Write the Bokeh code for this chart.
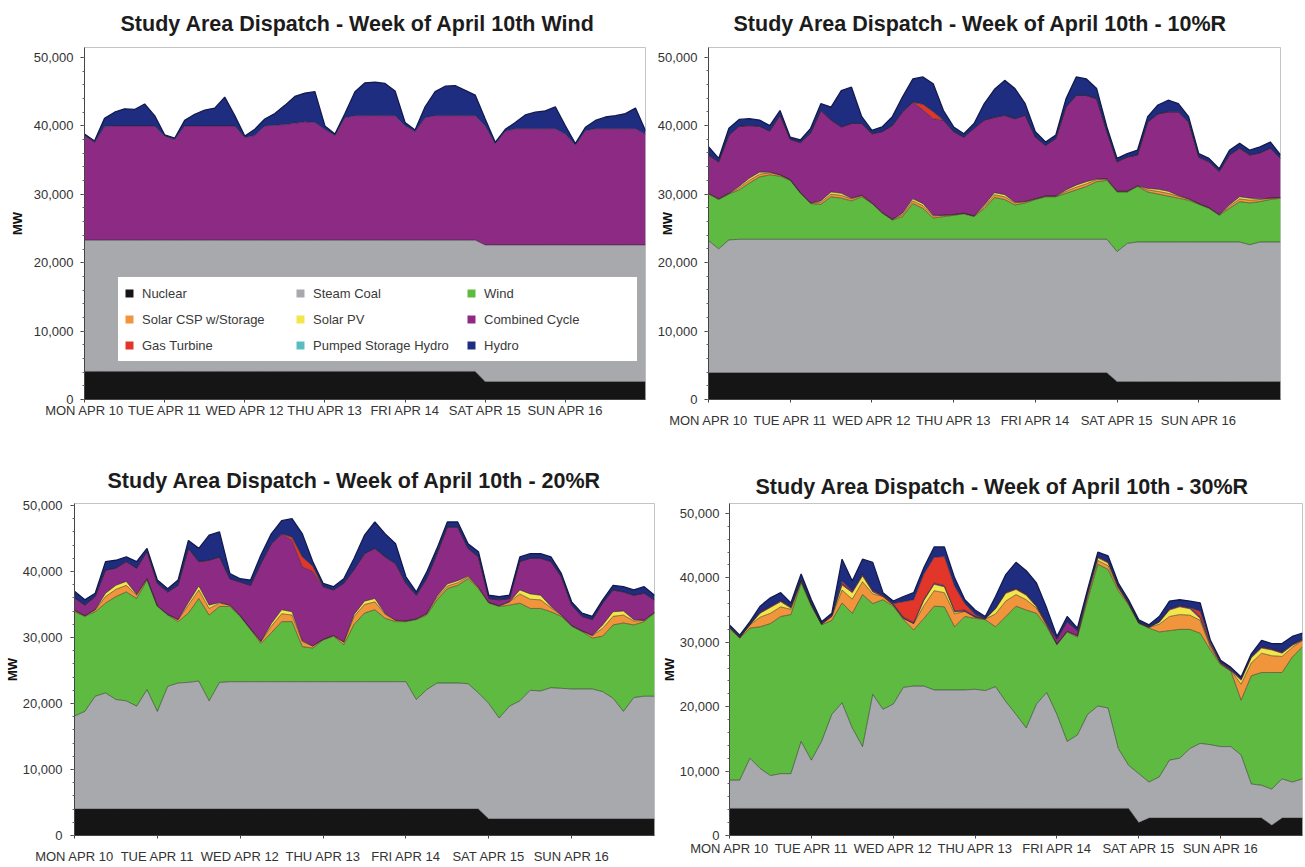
import numpy as np
from bokeh.plotting import figure
from bokeh.layouts import column, row
from bokeh.models import (Range1d, FixedTicker, SingleIntervalTicker, NumeralTickFormatter,
                          Legend, LegendItem)
from bokeh.embed import file_html
from bokeh.resources import INLINE

# ---------------- data (values in thousands of MW, every 3 hours) ----------------
hours = list(range(0, 169, 3))
day_ticks = [0, 24, 48, 72, 96, 120, 144]
day_labels = ["MON APR 10", "TUE APR 11", "WED APR 12", "THU APR 13",
              "FRI APR 14", "SAT APR 15", "SUN APR 16"]

sources = ["Nuclear", "Steam Coal", "Wind", "Solar CSP w/Storage", "Solar PV",
           "Combined Cycle", "Gas Turbine", "Pumped Storage Hydro", "Hydro"]
colors = ["#151515", "#a8a9ad", "#5fba42", "#f0953c", "#f2e64a",
          "#8c2a84", "#e2362b", "#5bbcc0", "#1f2d80"]

titles = ["Study Area Dispatch - Week of April 10th Wind",
          "Study Area Dispatch - Week of April 10th - 10%R",
          "Study Area Dispatch - Week of April 10th - 20%R",
          "Study Area Dispatch - Week of April 10th - 30%R"]

# --- panel 1: base case ---
nuc_b = [4.1, 4.1, 4.1, 4.1, 4.1, 4.1, 4.1, 4.1, 4.1, 4.1, 4.1, 4.1, 4.1, 4.1, 4.1, 4.1, 4.1, 4.1, 4.1, 4.1,
         4.1, 4.1, 4.1, 4.1, 4.1, 4.1, 4.1, 4.1, 4.1, 4.1, 4.1, 4.1, 4.1, 4.1, 4.1, 4.1, 4.1, 4.1, 4.1, 4.1,
         2.6, 2.6, 2.6, 2.6, 2.6, 2.6, 2.6, 2.6, 2.6, 2.6, 2.6, 2.6, 2.6, 2.6, 2.6, 2.6, 2.6]
coal_b = [19.2, 19.2, 19.2, 19.2, 19.2, 19.2, 19.2, 19.2, 19.2, 19.2, 19.2, 19.2, 19.2, 19.2, 19.2, 19.2, 19.2, 19.2, 19.2, 19.2,
          19.2, 19.2, 19.2, 19.2, 19.2, 19.2, 19.2, 19.2, 19.2, 19.2, 19.2, 19.2, 19.2, 19.2, 19.2, 19.2, 19.2, 19.2, 19.2, 19.2,
          20.0, 20.0, 20.0, 20.0, 20.0, 20.0, 20.0, 20.0, 20.0, 20.0, 20.0, 20.0, 20.0, 20.0, 20.0, 20.0, 20.0]
cc_b = [15.3, 14.3, 16.6, 16.7, 16.7, 16.7, 16.7, 16.7, 15.2, 14.7,
        16.7, 16.7, 16.7, 16.7, 16.7, 16.7, 15.0, 15.3, 16.7, 16.8,
        16.9, 17.1, 17.3, 17.2, 16.2, 15.3, 17.9, 18.2, 18.2, 18.2,
        18.2, 18.2, 16.7, 15.9, 17.9, 18.2, 18.2, 18.2, 18.2, 18.2,
        17.4, 14.8, 16.6, 17.0, 17.0, 17.0, 17.0, 17.0, 16.2, 14.6,
        16.7, 17.0, 17.0, 17.0, 17.0, 17.0, 16.2]
hydro_b = [0.2, 0.2, 1.2, 2.0, 2.5, 2.4, 3.2, 1.5, 0.2, 0.2,
           0.8, 1.7, 2.3, 2.6, 4.2, 1.5, 0.2, 0.9, 1.0, 1.7,
           2.8, 3.9, 4.2, 4.5, 0.5, 0.2, 0.6, 3.5, 4.8, 4.9,
           4.7, 3.6, 0.5, 0.2, 1.6, 3.5, 4.3, 4.4, 3.7, 3.0,
           1.0, 0.2, 0.3, 0.9, 2.0, 2.4, 2.6, 3.2, 1.2, 0.2,
           0.5, 1.2, 1.7, 1.9, 2.2, 3.0, 0.5]

# --- panel 2: 10% renewables ---
nuc_10 = [3.9, 3.9, 3.9, 3.9, 3.9, 3.9, 3.9, 3.9, 3.9, 3.9, 3.9, 3.9, 3.9, 3.9, 3.9, 3.9, 3.9, 3.9, 3.9, 3.9,
          3.9, 3.9, 3.9, 3.9, 3.9, 3.9, 3.9, 3.9, 3.9, 3.9, 3.9, 3.9, 3.9, 3.9, 3.9, 3.9, 3.9, 3.9, 3.9, 3.9,
          2.6, 2.6, 2.6, 2.6, 2.6, 2.6, 2.6, 2.6, 2.6, 2.6, 2.6, 2.6, 2.6, 2.6, 2.6, 2.6, 2.6]
coal_10 = [19.3, 18.1, 19.4, 19.5, 19.5, 19.5, 19.5, 19.5, 19.5, 19.5,
           19.5, 19.5, 19.5, 19.5, 19.5, 19.5, 19.5, 19.5, 19.5, 19.5,
           19.5, 19.5, 19.5, 19.5, 19.5, 19.5, 19.5, 19.5, 19.5, 19.5,
           19.5, 19.5, 19.5, 19.5, 19.5, 19.5, 19.5, 19.5, 19.5, 19.5,
           19.0, 20.2, 20.4, 20.4, 20.4, 20.4, 20.4, 20.4, 20.4, 20.4,
           20.4, 20.4, 20.4, 20.0, 20.4, 20.4, 20.4]
wind_10 = [6.8, 7.2, 6.7, 7.2, 8.2, 9.1, 9.4, 9.2, 8.6, 6.7,
           5.2, 5.1, 6.2, 6.0, 5.6, 6.2, 5.2, 3.8, 2.8, 3.3,
           5.2, 4.5, 3.1, 3.3, 3.5, 3.7, 3.3, 4.5, 6.1, 5.8,
           5.0, 5.3, 5.8, 6.2, 6.2, 6.7, 7.2, 7.7, 8.4, 8.6,
           8.7, 7.5, 8.1, 7.3, 7.0, 6.7, 6.4, 6.1, 5.5, 4.9,
           3.9, 4.9, 5.9, 6.1, 5.9, 6.2, 6.4]
csp_10 = [0.1, 0.1, 0.1, 0.3, 0.4, 0.4, 0.3, 0.2, 0.1, 0.1,
          0.1, 0.3, 0.4, 0.4, 0.3, 0.2, 0.1, 0.1, 0.1, 0.3,
          0.4, 0.4, 0.3, 0.2, 0.1, 0.1, 0.1, 0.3, 0.4, 0.4,
          0.3, 0.2, 0.1, 0.1, 0.1, 0.3, 0.4, 0.4, 0.3, 0.2,
          0.1, 0.1, 0.1, 0.3, 0.4, 0.4, 0.3, 0.2, 0.1, 0.1,
          0.1, 0.3, 0.4, 0.4, 0.3, 0.2, 0.1]
pv_10 = [0, 0, 0, 0.2, 0.3, 0.3, 0.1, 0, 0, 0,
         0, 0.2, 0.3, 0.3, 0.1, 0, 0, 0, 0, 0.2,
         0.3, 0.3, 0.1, 0, 0, 0, 0, 0.2, 0.3, 0.3,
         0.1, 0, 0, 0, 0, 0.2, 0.3, 0.3, 0.1, 0,
         0, 0, 0, 0.2, 0.3, 0.3, 0.1, 0, 0, 0,
         0, 0.2, 0.3, 0.3, 0.1, 0, 0]
cc_10 = [5.6, 5.4, 8.5, 8.8, 7.7, 6.7, 6.0, 8.7, 5.9, 7.3,
         10.2, 13.2, 10.5, 9.7, 10.9, 10.5, 10.1, 11.8, 13.7, 14.8,
         14.1, 13.7, 14.1, 13.9, 12.1, 11.1, 12.8, 12.4, 11.0, 11.6,
         12.2, 12.6, 9.0, 7.4, 8.4, 12.1, 13.1, 12.6, 11.7, 6.9,
         4.3, 5.0, 4.5, 9.7, 11.0, 11.6, 12.2, 11.2, 6.8, 6.7,
         6.3, 7.3, 7.1, 6.3, 6.7, 7.3, 5.7]
gt_10 = [0, 0, 0, 0, 0, 0, 0, 0, 0, 0,
         0, 0, 0, 0, 0, 0, 0, 0, 0, 0,
         0, 0.8, 1.0, 0, 0, 0, 0, 0, 0, 0,
         0, 0, 0, 0, 0, 0, 0, 0, 0, 0,
         0, 0, 0, 0, 0, 0, 0, 0, 0, 0,
         0, 0, 0, 0, 0, 0, 0]
hydro_10 = [1.2, 0.5, 1.0, 1.0, 1.0, 0.9, 0.8, 0.7, 0.3, 0.4,
            0.7, 1.0, 1.9, 5.3, 5.3, 1.0, 0.5, 0.7, 1.3, 2.2,
            3.4, 4.0, 4.1, 1.4, 0.7, 0.5, 0.7, 2.4, 4.1, 5.1,
            4.4, 1.7, 0.8, 0.5, 0.5, 1.2, 2.7, 2.4, 1.5, 0.7,
            0.5, 0.5, 0.7, 0.8, 1.3, 1.7, 1.2, 0.8, 0.5, 0.5,
            0.4, 0.7, 0.7, 0.7, 0.9, 0.9, 0.5]

# --- panel 3: 20% renewables ---
nuc_20 = [4.0, 4.0, 4.0, 4.0, 4.0, 4.0, 4.0, 4.0, 4.0, 4.0, 4.0, 4.0, 4.0, 4.0, 4.0, 4.0, 4.0, 4.0, 4.0, 4.0,
          4.0, 4.0, 4.0, 4.0, 4.0, 4.0, 4.0, 4.0, 4.0, 4.0, 4.0, 4.0, 4.0, 4.0, 4.0, 4.0, 4.0, 4.0, 4.0, 4.0,
          2.5, 2.5, 2.5, 2.5, 2.5, 2.5, 2.5, 2.5, 2.5, 2.5, 2.5, 2.5, 2.5, 2.5, 2.5, 2.5, 2.5]
coal_20 = [14.1, 14.8, 17.1, 17.6, 16.6, 16.4, 15.6, 18.1, 14.8, 18.6,
           19.1, 19.2, 19.4, 16.4, 19.2, 19.3, 19.3, 19.3, 19.3, 19.3,
           19.3, 19.3, 19.3, 19.3, 19.3, 19.3, 19.3, 19.3, 19.3, 19.3,
           19.3, 19.3, 19.3, 16.6, 18.1, 19.1, 19.1, 19.1, 19.0, 17.6,
           17.5, 15.3, 17.1, 17.9, 19.5, 19.4, 19.9, 19.8, 19.7, 19.7,
           19.7, 19.3, 18.3, 16.3, 18.4, 18.6, 18.6]
wind_20 = [15.8, 14.4, 12.8, 13.6, 15.6, 16.5, 16.3, 16.6, 15.9, 10.8,
           9.3, 10.5, 12.5, 13.0, 11.5, 11.4, 9.9, 7.9, 5.8, 7.4,
           9.1, 9.1, 5.3, 5.1, 6.3, 6.9, 5.6, 8.7, 10.4, 10.9,
           9.6, 9.1, 9.1, 12.1, 11.3, 12.6, 14.3, 14.8, 15.9, 15.8,
           15.2, 16.9, 15.3, 14.8, 12.4, 12.5, 11.5, 10.9, 9.5, 8.7,
           7.7, 8.4, 11.1, 13.4, 11.0, 11.3, 12.6]
csp_20 = [0.2, 0.1, 0.3, 1.0, 1.1, 1.0, 0.5, 0.2, 0.1, 0.1,
          0.3, 1.2, 1.3, 1.0, 0.5, 0.2, 0.1, 0.1, 0.3, 1.0,
          1.2, 1.0, 0.8, 0.3, 0.1, 0.1, 0.4, 1.2, 1.3, 1.2,
          0.6, 0.2, 0.1, 0.1, 0.2, 0.4, 0.4, 0.4, 0.3, 0.2,
          0.1, 0.1, 0.5, 1.4, 1.4, 1.3, 0.6, 0.2, 0.1, 0.1,
          0.4, 1.2, 1.3, 1.2, 0.6, 0.2, 0.1]
pv_20 = [0, 0, 0, 0.5, 0.6, 0.6, 0.1, 0, 0, 0,
         0, 0.4, 0.6, 0.5, 0.1, 0, 0, 0, 0, 0.4,
         0.6, 0.5, 0.1, 0, 0, 0, 0, 0.3, 0.5, 0.5,
         0.1, 0, 0, 0, 0, 0.2, 0.3, 0.3, 0.1, 0,
         0, 0, 0, 0.6, 0.8, 0.7, 0.2, 0, 0, 0,
         0, 0.5, 0.7, 0.6, 0.2, 0, 0]
cc_20 = [1.9, 1.6, 2.0, 3.5, 2.6, 3.0, 4.0, 4.1, 3.4, 3.4,
         5.2, 8.2, 3.7, 6.8, 6.9, 4.0, 5.1, 6.6, 11.8, 12.1,
         11.5, 10.8, 11.2, 11.3, 8.0, 6.9, 8.9, 6.8, 7.2, 7.6,
         8.6, 8.6, 5.7, 3.6, 5.3, 6.4, 8.6, 8.1, 4.2, 4.6,
         0.6, 0.9, 0.5, 4.3, 5.4, 5.6, 6.8, 5.8, 3.1, 2.2,
         2.4, 3.3, 3.3, 2.9, 3.7, 4.1, 1.9]
gt_20 = [0, 0, 0, 0, 0, 0, 0, 0, 0, 0,
         0, 0, 0, 0, 0, 0, 0, 0, 0, 0,
         0, 0.5, 1.5, 0.8, 0, 0, 0, 0, 0, 0,
         0, 0, 0, 0, 0, 0, 0, 0, 0, 0,
         0, 0, 0, 0, 0, 0, 0, 0, 0, 0,
         0, 0, 0, 0, 0, 0, 0]
hydro_20 = [1.0, 0.8, 0.5, 1.3, 1.2, 0.7, 1.0, 0.5, 0.5, 0.5,
            0.8, 1.2, 2.0, 3.8, 3.8, 0.8, 0.5, 0.8, 1.3, 1.5,
            2.0, 2.8, 3.5, 0.7, 0.5, 0.5, 0.7, 1.7, 2.8, 4.0,
            3.5, 3.0, 1.0, 0.5, 1.0, 0.8, 0.8, 0.8, 0.7, 0.8,
            0.5, 0.5, 0.5, 0.7, 0.7, 0.7, 0.7, 0.5, 0.5, 0.5,
            0.5, 0.5, 0.7, 0.8, 0.8, 1.0, 0.7]

# --- panel 4: 30% renewables ---
nuc_30 = [4.2, 4.2, 4.2, 4.2, 4.2, 4.2, 4.2, 4.2, 4.2, 4.2, 4.2, 4.2, 4.2, 4.2, 4.2, 4.2, 4.2, 4.2, 4.2, 4.2,
          4.2, 4.2, 4.2, 4.2, 4.2, 4.2, 4.2, 4.2, 4.2, 4.2, 4.2, 4.2, 4.2, 4.2, 4.2, 4.2, 4.2, 4.2, 4.2, 4.2,
          2.0, 2.7, 2.7, 2.7, 2.7, 2.7, 2.7, 2.7, 2.7, 2.7, 2.7, 2.7, 2.7, 1.6, 2.7, 2.7, 2.7]
coal_30 = [4.4, 4.4, 7.8, 6.2, 5.1, 5.4, 5.4, 10.4, 7.5, 10.4,
           14.6, 16.4, 12.5, 9.6, 17.7, 15.4, 16.2, 18.8, 19.0, 19.0,
           18.4, 18.4, 18.4, 18.4, 18.5, 18.3, 18.9, 16.6, 14.6, 12.5,
           16.2, 18.0, 14.6, 10.4, 11.4, 14.6, 15.9, 15.6, 9.3, 6.7,
           7.6, 5.6, 6.4, 9.0, 9.3, 10.8, 11.6, 11.4, 11.1, 11.1,
           9.8, 5.3, 5.1, 5.6, 6.1, 5.6, 6.1]
wind_30 = [23.5, 22.0, 20.2, 22.0, 23.6, 24.4, 24.7, 24.6, 23.9, 18.1,
           14.6, 15.5, 17.8, 23.6, 14.1, 17.0, 15.2, 10.5, 8.7, 10.5,
           13.0, 12.9, 9.8, 11.4, 11.0, 11.0, 9.3, 13.2, 16.8, 18.3,
           14.1, 10.2, 10.8, 17.0, 15.2, 17.8, 22.0, 21.5, 24.5, 24.9,
           23.3, 23.9, 22.5, 20.1, 20.0, 18.5, 17.1, 14.7, 12.7, 11.7,
           8.5, 16.8, 17.5, 18.1, 16.5, 19.4, 20.5]
csp_30 = [0.2, 0.1, 0.5, 1.5, 1.6, 1.5, 0.8, 0.3, 0.2, 0.1,
          0.6, 2.0, 2.2, 2.0, 1.5, 0.5, 0.2, 0.2, 1.0, 2.0,
          2.4, 2.2, 2.0, 0.8, 0.2, 0.1, 2.0, 2.4, 1.8, 1.6,
          0.8, 0.3, 0.1, 0.1, 0.2, 0.5, 0.6, 0.6, 0.4, 0.2,
          0.1, 0.1, 1.2, 2.2, 2.3, 2.2, 2.0, 0.4, 0.2, 0.1,
          2.5, 2.0, 3.0, 2.6, 2.5, 1.5, 1.0]
pv_30 = [0, 0, 0, 0.6, 0.9, 0.8, 0.2, 0, 0, 0,
         0, 0.8, 1.0, 0.9, 0.3, 0, 0, 0, 0, 0.8,
         1.0, 0.9, 0.3, 0, 0, 0, 0.8, 1.2, 0.8, 0.7,
         0.2, 0, 0, 0, 0, 0.3, 0.4, 0.4, 0.1, 0,
         0, 0, 0.3, 1.0, 1.2, 1.0, 0.3, 0.3, 0, 0,
         0.6, 0.8, 0.8, 0.9, 0.5, 0.3, 0]
cc_30 = [0.1, 0.1, 0.1, 0.2, 0.2, 0.2, 0.2, 0.2, 0.1, 0.1,
         0.2, 0.3, 0.3, 0.3, 0.3, 0.2, 0.2, 0.2, 0.2, 0.2,
         0.2, 0.2, 0.2, 0.2, 0.2, 0.1, 0.1, 0.2, 0.2, 0.2,
         0.2, 0.3, 0.8, 1.5, 0.8, 0.3, 0.2, 0.2, 0.2, 0.2,
         0.1, 0.1, 0.1, 0.2, 0.2, 0.2, 0.3, 0.3, 0.2, 0.2,
         0.2, 0.2, 0.2, 0.2, 0.2, 0.2, 0.2]
gt_30 = [0, 0, 0, 0, 0, 0, 0, 0, 0, 0,
         0, 0.3, 0, 0, 0, 0, 0, 2.4, 3.5, 3.9,
         4.0, 4.5, 3.8, 1.0, 0.2, 0, 0, 0, 0, 0,
         0, 0, 0, 0, 0, 0, 0, 0, 0, 0,
         0, 0, 0, 0, 0, 0, 0.8, 0.3, 0, 0,
         0, 0, 0, 0, 0, 0, 0]
hydro_30 = [0.3, 0.3, 0.4, 0.9, 1.3, 1.2, 0.6, 0.9, 0.7, 0.3,
            0.3, 3.4, 1.5, 2.3, 4.3, 0.4, 0.4, 0.8, 1.1, 1.0,
            1.6, 1.5, 1.3, 0.6, 0.7, 0.3, 1.8, 2.7, 4.0, 3.6,
            3.5, 2.3, 0.4, 0.8, 0.4, 0.5, 0.7, 0.9, 0.5, 0.4,
            0.4, 0.3, 0.8, 1.2, 0.9, 1.0, 1.3, 0.2, 0.3, 0.3,
            0.3, 0.4, 1.0, 0.8, 1.3, 1.2, 0.9]

panel_series = [
    {"Nuclear": nuc_b, "Steam Coal": coal_b, "Combined Cycle": cc_b, "Hydro": hydro_b},
    {"Nuclear": nuc_10, "Steam Coal": coal_10, "Wind": wind_10, "Solar CSP w/Storage": csp_10,
     "Solar PV": pv_10, "Combined Cycle": cc_10, "Gas Turbine": gt_10, "Hydro": hydro_10},
    {"Nuclear": nuc_20, "Steam Coal": coal_20, "Wind": wind_20, "Solar CSP w/Storage": csp_20,
     "Solar PV": pv_20, "Combined Cycle": cc_20, "Gas Turbine": gt_20, "Hydro": hydro_20},
    {"Nuclear": nuc_30, "Steam Coal": coal_30, "Wind": wind_30, "Solar CSP w/Storage": csp_30,
     "Solar PV": pv_30, "Combined Cycle": cc_30, "Gas Turbine": gt_30, "Hydro": hydro_30},
]

# ---------------- styling ----------------
FONT = "'Liberation Sans', Arial, sans-serif"


def make_panel(idx, width, height, borders, y_end, title_standoff, title_offset,
               ylabel_standoff, ytick_standoff, xlabel_standoff, with_legend=False):
    left, right, top, bottom = borders
    p = figure(width=width, height=height, output_backend="svg", toolbar_location=None,
               x_range=Range1d(0, 168), y_range=Range1d(0, y_end),
               min_border_left=left, min_border_right=right,
               min_border_top=top, min_border_bottom=bottom)
    p.background_fill_color = "white"
    p.border_fill_color = "white"
    p.outline_line_color = "#c4c4c4"
    p.outline_line_width = 1
    p.xgrid.visible = False
    p.ygrid.visible = False

    p.title.text = titles[idx]
    p.title.align = "left"
    p.title.offset = title_offset
    p.title.vertical_align = "top"
    p.title.text_font = FONT
    p.title.text_font_style = "bold"
    p.title.text_font_size = "21.5px"
    p.title.text_color = "#1c1c1c"
    p.title.standoff = title_standoff

    series = panel_series[idx]
    base = np.zeros(len(hours))
    tops = []
    renderers = {}
    for name, color in zip(sources, colors):
        vals = series.get(name)
        if vals is None:
            continue
        top_ = base + np.array(vals, dtype=float) * 1000.0
        r = p.varea(x=hours, y1=base, y2=top_, fill_color=color)
        renderers[name] = r
        tops.append((name, top_))
        base = top_
    for name, top_ in tops:
        if name == "Hydro":
            p.line(hours, top_, line_color="#121a4d", line_width=1.3)
        else:
            p.line(hours, top_, line_color="#1e1e1e", line_width=0.7, line_alpha=0.75)

    # x axis
    xa = p.xaxis[0]
    xa.axis_label = None
    xa.ticker = FixedTicker(ticks=day_ticks)
    xa.major_label_overrides = {t: lab for t, lab in zip(day_ticks, day_labels)}
    xa.major_label_text_font = FONT
    xa.major_label_text_font_size = "13px"
    xa.major_label_text_color = "#333333"
    xa.major_label_standoff = xlabel_standoff
    xa.axis_line_color = "#444444"
    xa.major_tick_line_color = "#444444"
    xa.major_tick_out = 3
    xa.major_tick_in = 0
    xa.minor_tick_line_color = None

    # y axis
    ya = p.yaxis[0]
    ya.ticker = SingleIntervalTicker(interval=10000, num_minor_ticks=5)
    ya.formatter = NumeralTickFormatter(format="0,0")
    ya.major_label_text_font = FONT
    ya.major_label_text_font_size = "13px"
    ya.major_label_text_color = "#333333"
    ya.major_label_standoff = ytick_standoff
    ya.axis_line_color = "#444444"
    ya.major_tick_line_color = "#444444"
    ya.minor_tick_line_color = "#666666"
    ya.major_tick_out = 4
    ya.major_tick_in = 0
    ya.minor_tick_out = 2
    ya.minor_tick_in = 0
    ya.axis_label = "MW"
    ya.axis_label_text_font = FONT
    ya.axis_label_text_font_style = "bold"
    ya.axis_label_text_font_size = "13px"
    ya.axis_label_text_color = "#111111"
    ya.axis_label_standoff = ylabel_standoff

    if with_legend:
        items = []
        for name, color in zip(sources, colors):
            r = renderers.get(name)
            if r is None:
                r = p.varea(x=[0, 1], y1=[0, 0], y2=[0, 0], fill_color=color)
            items.append(LegendItem(label=name, renderers=[r]))
        legend = Legend(items=items, location=(33, 37), orientation="horizontal", ncols=3,
                        glyph_width=10, glyph_height=10, label_standoff=8,
                        label_width=147, label_height=20, spacing=6, padding=6, margin=0,
                        border_line_color="#555555", border_line_width=1,
                        background_fill_color="white", background_fill_alpha=1.0,
                        label_text_font=FONT, label_text_font_size="13px",
                        label_text_color="#3a3a3a")
        p.add_layout(legend)
    return p


# borders: (left, right, top, bottom); frames in one row share top/bottom borders
p1 = make_panel(0, 650, 430, (84, 5, 47, 30), 51460, 20, 36, 6, 7, 0, with_legend=True)
p2 = make_panel(1, 654, 430, (58, 24, 47, 30), 51400, 19, 25, -20, 7, 10)
p3 = make_panel(2, 658, 436, (74, 4, 73, 29), 50300, 18, 33, 0, 8, 10)
p4 = make_panel(3, 646, 436, (70, 2, 73, 29), 51540, 6, 26, 0, 6, 2)

layout = column(row(p1, p2), row(p3, p4))
open("out.html", "w").write(file_html(layout, INLINE))
